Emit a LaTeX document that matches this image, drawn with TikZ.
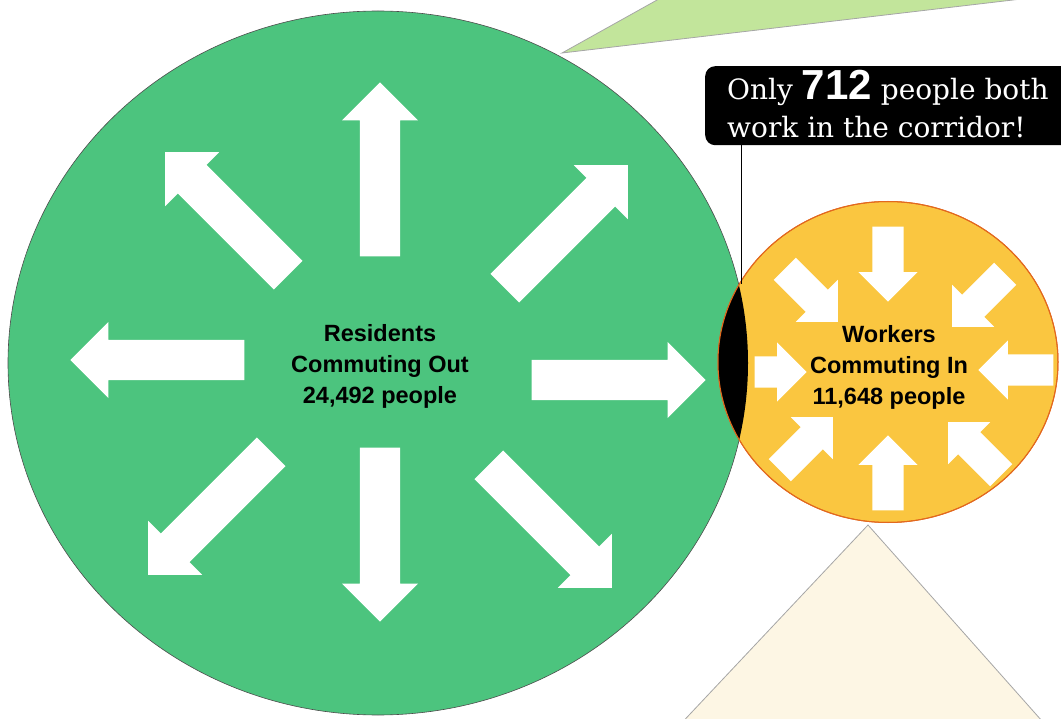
\documentclass[tikz,border=0pt]{standalone}
\usepackage{fontspec}
\setmainfont{Liberation Sans}
\newfontfamily\notefont{DejaVu Serif}
\newfontfamily\numfont{Liberation Sans}
\usepackage{tikz}
\usetikzlibrary{positioning,shapes.geometric,shapes.arrows}
\definecolor{outgreen}{RGB}{76,196,126}
\definecolor{inyellow}{RGB}{250,198,64}
\definecolor{inedge}{RGB}{226,104,30}
\definecolor{topgreen}{RGB}{194,229,155}
\definecolor{lowcream}{RGB}{253,246,228}
\tikzset{
  outarrow/.style={single arrow, fill=white, anchor=tip, inner xsep=0pt, inner ysep=20pt, minimum height=174pt, single arrow head extend=18pt},
  inarrow/.style={single arrow, fill=white, anchor=tip, inner xsep=0pt, inner ysep=15.5pt, minimum height=75pt, single arrow head extend=14pt},
  countlabel/.style={font=\bfseries\fontsize{23.5}{31}\selectfont, align=center, text=black},
  wedge/.style={draw=gray!70, line width=0.8pt},
}

\begin{document}
\begin{tikzpicture}[x=1pt,y=-1pt]
\useasboundingbox (0,0) rectangle (1061,719);
\clip (0,0) rectangle (1061,719);
% pointer wedges
\filldraw[wedge, fill=topgreen] (562,53) -- (675,-10) -- (1098,-10) -- cycle;
\filldraw[wedge, fill=lowcream] (868,525) -- (675,730) -- (1050,730) -- cycle;
% circles
\node[ellipse, draw=black!70, fill=outgreen, line width=0.6pt, minimum width=740pt, minimum height=704pt] (outcirc) at (378,363) {};
\node[ellipse, draw=inedge, fill=inyellow, line width=1pt, minimum width=340pt, minimum height=321pt] (incirc) at (888,362) {};
% overlap
\begin{scope}
\clip (378,363) ellipse [x radius=370, y radius=352];
\fill[black] (888,362) ellipse [x radius=170, y radius=160.5];
\end{scope}
\draw[inedge, line width=1pt] (888,362) ellipse [x radius=170, y radius=160.5];
% outgoing arrows (placed by tip)
\node[outarrow, rotate=90] (outN) at (380,82) {};
\node[outarrow, rotate=-90] (outS) at (380,622) {};
\node[outarrow, rotate=180] (outW) at (70,360) {};
\node[outarrow] (outE) at (706,380) {};
\node[outarrow, rotate=135] (outNW) at (165,152) {};
\node[outarrow, rotate=45] (outNE) at (628,165) {};
\node[outarrow, rotate=-135] (outSW) at (148,575) {};
\node[outarrow, rotate=-45] (outSE) at (612,588) {};
% incoming arrows
\node[inarrow, rotate=-90] (inN) at (888,302) {};
\node[inarrow, rotate=90] (inS) at (888,435) {};
\node[inarrow, minimum height=52pt] (inW) at (807,372) {};
\node[inarrow, rotate=180] (inE) at (978,370) {};
\node[inarrow, rotate=-45] (inNW) at (838,322) {};
\node[inarrow, rotate=-135] (inNE) at (952,327) {};
\node[inarrow, rotate=45] (inSW) at (833,417) {};
\node[inarrow, rotate=135] (inSE) at (948,422) {};
% labels
\node[countlabel] (outtxt) at (380,366) {Residents\\Commuting Out\\24,492 people};
\node[countlabel] (intxt) at (889,367) {Workers\\Commuting In\\11,648 people};
% callout
\node[fill=black, rounded corners=10pt, inner sep=0pt, minimum width=420pt, minimum height=79pt, anchor=north west] (note) at (705,66) {};
\node[anchor=base west, inner sep=0pt, text=white, font=\notefont\fontsize{28}{34}\selectfont] (noteA) at (727,100) {Only {\numfont\bfseries\fontsize{42}{42}\selectfont 712} people both};
\node[anchor=base west, inner sep=0pt, text=white, font=\notefont\fontsize{28}{34}\selectfont] (noteB) at (727,138) {work in the corridor!};
\coordinate (lenstop) at (741,284);
\draw[line width=1pt] (note.south -| lenstop) -- (lenstop);
\end{tikzpicture}
\end{document}
